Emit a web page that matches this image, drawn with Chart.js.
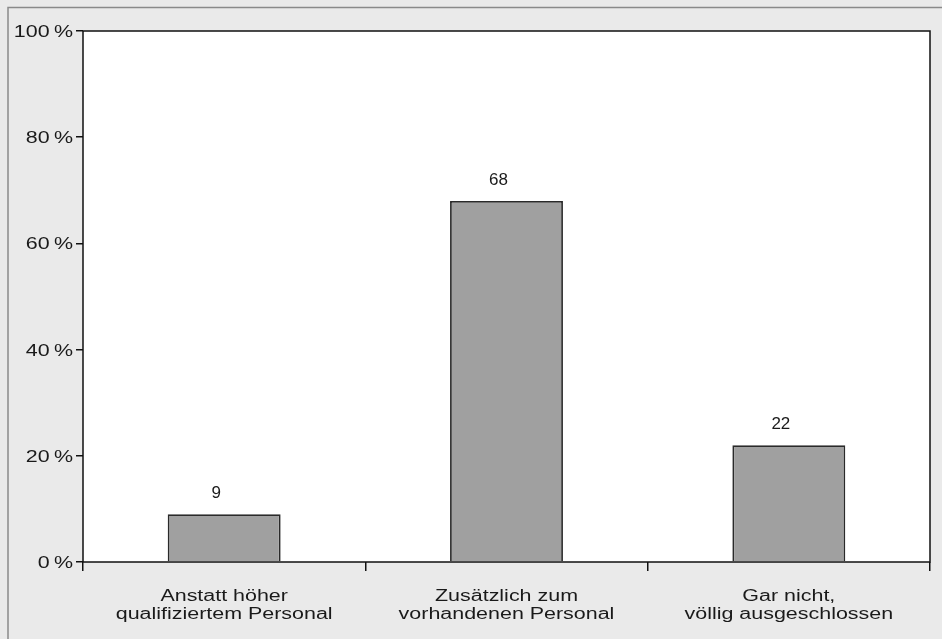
<!DOCTYPE html>
<html>
<head>
<meta charset="utf-8">
<script src="https://cdn.jsdelivr.net/npm/chart.js@4"></script>
<style>
  html, body { margin: 0; padding: 0; background: #eaeaea; }
  #wrap { width: 942px; height: 639px; }
</style>
</head>
<body>
<div id="wrap"><canvas id="chart" width="942" height="639"></canvas></div>
<script>
  const categories = [
    ['Anstatt höher', 'qualifiziertem Personal'],
    ['Zusätzlich zum', 'vorhandenen Personal'],
    ['Gar nicht,', 'völlig ausgeschlossen']
  ];
  const values = [9, 68, 22];
  const yTicks = [0, 20, 40, 60, 80, 100];

  const textColor = '#1a1a1a';
  const fontFamily = '"Liberation Sans", Arial, sans-serif';
  const stretch = 1.34; // axis text in the original is drawn wide

  function wideText(ctx, text, x, y, align) {
    ctx.save();
    ctx.translate(x, y);
    ctx.scale(stretch, 1);
    ctx.textAlign = align;
    ctx.fillText(text, 0, 0);
    ctx.restore();
  }

  // grey frame, white plot area, black box round it
  const framePlugin = {
    id: 'frame',
    beforeDraw(chart) {
      const ctx = chart.ctx;
      const a = chart.chartArea;
      ctx.save();
      ctx.fillStyle = '#eaeaea';
      ctx.fillRect(0, 0, chart.width, chart.height);
      ctx.strokeStyle = '#8a8a8a';
      ctx.lineWidth = 1.5;
      ctx.beginPath();
      ctx.moveTo(8, chart.height);
      ctx.lineTo(8, 7.5);
      ctx.lineTo(chart.width, 7.5);
      ctx.stroke();
      ctx.fillStyle = '#fff';
      ctx.fillRect(a.left, a.top, a.right - a.left, a.bottom - a.top);
      ctx.restore();
    },
    afterDraw(chart) {
      const ctx = chart.ctx;
      const a = chart.chartArea;
      ctx.save();
      ctx.strokeStyle = '#111';
      ctx.lineWidth = 1.5;
      ctx.strokeRect(a.left, a.top, a.right - a.left, a.bottom - a.top);

      // axis labels, placed from the scales
      ctx.font = '16px ' + fontFamily;
      ctx.fillStyle = textColor;
      ctx.textBaseline = 'alphabetic';
      const xs = chart.scales.x;
      const ys = chart.scales.y;
      categories.forEach((lines, i) => {
        const x = xs.getPixelForValue(i);
        lines.forEach((line, j) => {
          wideText(ctx, line, x, xs.top + 39 + j * 18, 'center');
        });
      });
      yTicks.forEach((v) => {
        wideText(ctx, v + '\u2009%', ys.right - 10, ys.getPixelForValue(v) + 6, 'right');
      });
      ctx.restore();
    }
  };

  const valueLabels = {
    id: 'valueLabels',
    afterDatasetsDraw(chart) {
      const ctx = chart.ctx;
      const meta = chart.getDatasetMeta(0);
      ctx.save();
      ctx.font = '17px ' + fontFamily;
      ctx.fillStyle = textColor;
      ctx.textAlign = 'center';
      ctx.textBaseline = 'alphabetic';
      meta.data.forEach((bar, i) => {
        ctx.fillText(String(values[i]), bar.x - 8, bar.y - 16);
      });
      ctx.restore();
    }
  };

  new Chart(document.getElementById('chart'), {
    type: 'bar',
    data: {
      labels: categories,
      datasets: [{
        data: values,
        backgroundColor: '#a0a0a0',
        borderColor: '#2a2a2a',
        borderWidth: 1.8,
        borderSkipped: 'bottom',
        barPercentage: 0.4,
        categoryPercentage: 1
      }]
    },
    options: {
      responsive: false,
      animation: false,
      layout: { padding: { left: 8, top: 31, right: 12, bottom: 0 } },
      plugins: { legend: { display: false }, tooltip: { enabled: false } },
      scales: {
        x: {
          grid: { display: true, drawOnChartArea: false, drawTicks: true, tickLength: 9, color: '#111', lineWidth: 1.5 },
          border: { display: false },
          ticks: { display: false },
          afterFit(scale) { scale.height = 77; }
        },
        y: {
          min: 0,
          max: 100,
          afterBuildTicks(scale) { scale.ticks = yTicks.map(v => ({ value: v })); },
          grid: { display: true, drawOnChartArea: false, drawTicks: true, tickLength: 7, color: '#111', lineWidth: 1.5 },
          border: { display: false },
          ticks: { display: false },
          afterFit(scale) { scale.width = 75; }
        }
      }
    },
    plugins: [framePlugin, valueLabels]
  });
</script>
</body>
</html>
